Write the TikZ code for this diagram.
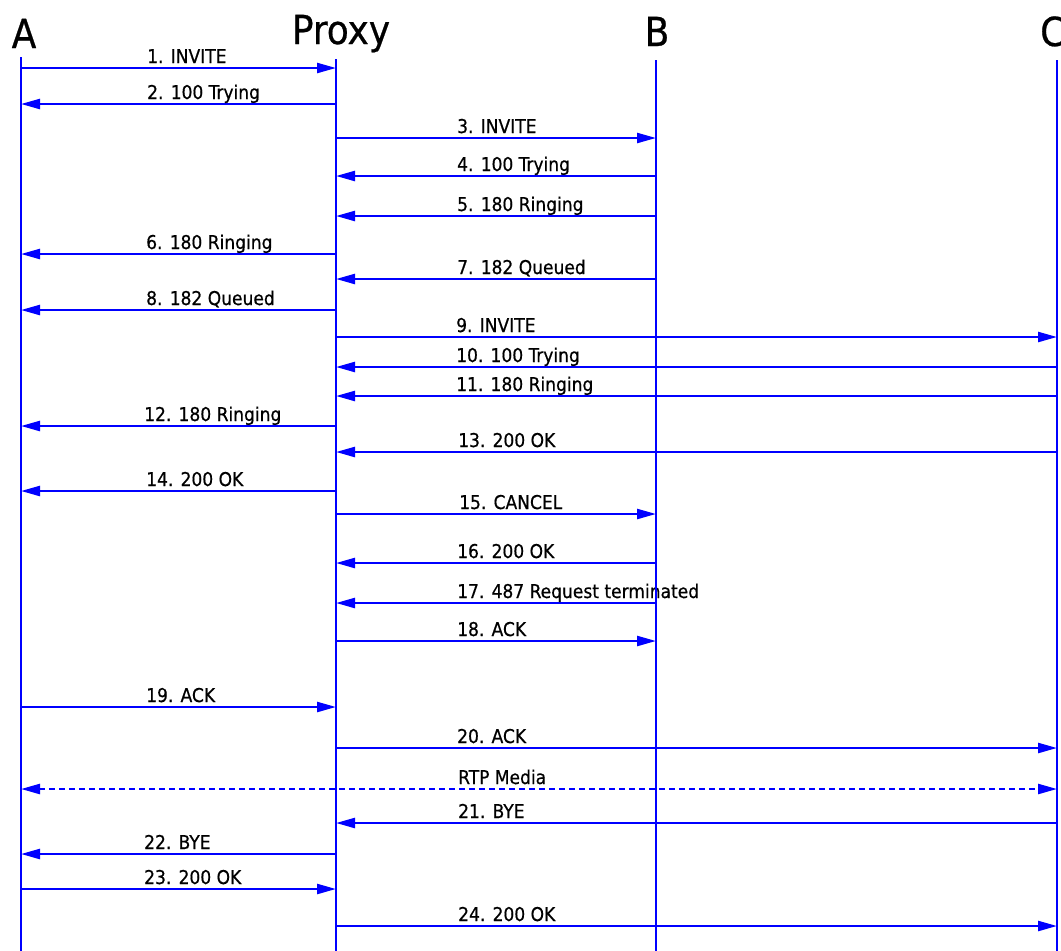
\documentclass[tikz,border=0pt]{standalone}
\usepackage{fontspec}
\setmainfont{DejaVu Sans Condensed}[FakeBold=0.6,AutoFakeBold=0.6]
\usetikzlibrary{arrows.meta}
\begin{document}
\begin{tikzpicture}[x=1pt,y=-1pt,
  life/.style={draw=blue,line width=2.4pt},
  msg/.style={draw=blue,line width=2.4pt,-{Triangle[length=19pt,width=10pt]}},
  rtp/.style={draw=blue,line width=2.4pt,dash pattern=on 6pt off 4pt,{Triangle[length=19pt,width=10pt]}-{Triangle[length=19pt,width=10pt]}},
  lbl/.style={anchor=base west,inner sep=0pt,font=\fontsize{19}{19}\bfseries},
  hdr/.style={anchor=base,inner sep=0pt,font=\fontsize{40}{40}\bfseries}]
\useasboundingbox (0,0) rectangle (1061,951);
\fill[white] (0,0) rectangle (1061,951);
% headers
\node[hdr] (hA) at (24,48) {A};
\node[hdr] (hP) at (341,44) {Proxy};
\node[hdr] (hB) at (657,46) {B};
\node[hdr,anchor=base west] (hC) at (1040,46) {C};
% messages
\foreach \i/\y/\fx/\tx/\lx/\txt in {
1/68/21/336/147/{1. INVITE},
2/104/336/21/147/{2. 100 Trying},
3/138/336/656/457/{3. INVITE},
4/176/656/336/457/{4. 100 Trying},
5/216/656/336/457/{5. 180 Ringing},
6/254/336/21/146/{6. 180 Ringing},
7/279/656/336/457/{7. 182 Queued},
8/310/336/21/146/{8. 182 Queued},
9/337/336/1057/456/{9. INVITE},
10/367/1057/336/456/{10. 100 Trying},
11/396/1057/336/456/{11. 180 Ringing},
12/426/336/21/144/{12. 180 Ringing},
13/452/1057/336/458/{13. 200 OK},
14/491/336/21/146/{14. 200 OK},
15/514/336/656/459/{15. CANCEL},
16/563/656/336/457/{16. 200 OK},
17/603/656/336/457/{17. 487 Request terminated},
18/641/336/656/457/{18. ACK},
19/707/21/336/146/{19. ACK},
20/748/336/1057/457/{20. ACK},
21/823/1057/336/458/{21. BYE},
22/854/336/21/144/{22. BYE},
23/889/21/336/144/{23. 200 OK},
24/926/336/1057/458/{24. 200 OK}}
{
  \coordinate (s\i) at (\fx,\y);
  \coordinate (e\i) at (\tx,\y);
  \draw[msg] (s\i) -- (e\i);
  \node[lbl] (l\i) at (\lx,\y-5) {\txt};
}
% RTP media
\coordinate (rA) at (21,789);
\coordinate (rC) at (1057,789);
\draw[rtp] (rA) -- (rC);
\node[lbl] (lrtp) at (458,784) {RTP Media};
% lifelines
\coordinate (At) at (21,57);  \coordinate (Ab) at (21,951);
\coordinate (Pt) at (336,59); \coordinate (Pb) at (336,951);
\coordinate (Bt) at (656,60); \coordinate (Bb) at (656,951);
\coordinate (Ct) at (1057,60); \coordinate (Cb) at (1057,951);
\draw[life] (At) -- (Ab);
\draw[life] (Pt) -- (Pb);
\draw[life] (Bt) -- (Bb);
\draw[life] (Ct) -- (Cb);
\end{tikzpicture}
\end{document}
